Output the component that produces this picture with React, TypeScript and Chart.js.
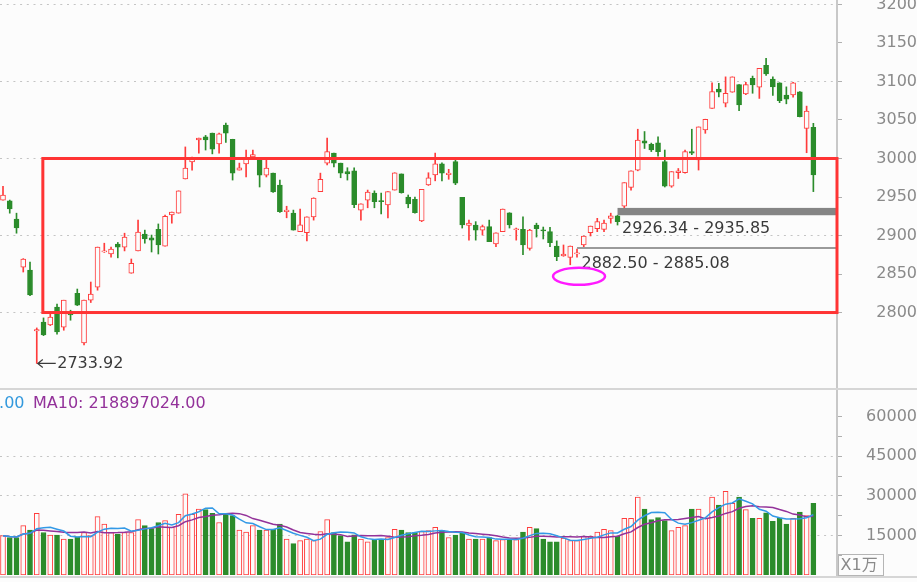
import React, { useEffect, useRef } from 'react';
import { Chart, registerables } from 'chart.js';

Chart.register(...registerables);
Chart.defaults.font.family = "'DejaVu Sans', 'Noto Sans CJK SC', sans-serif";

// ---------- data (price in points, volume in 万) ----------
const opens = [
  2946, 2945, 2921.4, 2859, 2855, 2776, 2787.7, 2783.8, 2807, 2781,
  2799, 2825, 2760.4, 2816, 2833, 2878.6, 2876, 2889, 2885, 2851,
  2880, 2902, 2897, 2908, 2886, 2926.6, 2929, 2973.4, 2995.5, 3024,
  3028, 3033, 3019, 3043.5, 3025, 2985, 2993, 3002, 2999, 2978.5,
  2981, 2965.6, 2931, 2929, 2905, 2903.6, 2924, 2957, 2994, 3007,
  2994, 2983, 2984, 2933, 2946, 2955, 2945, 2939.6, 2959, 2980,
  2950, 2947, 2919, 2965.6, 2978.6, 2993, 2979, 2996, 2949.6, 2913,
  2913.6, 2907, 2911.5, 2889, 2905, 2929.6, 2907.5, 2908, 2883.4, 2913.6,
  2907, 2905, 2886.4, 2873.4, 2871.7, 2876, 2887.7, 2903.6, 2909, 2908,
  2922.3, 2925.7, 2938, 2962.6, 2985, 3023, 3018.4, 3020.5, 2996, 2964,
  2981.5, 2981.5, 3009, 2998, 3037, 3065, 3090, 3071.7, 3086, 3096,
  3083.7, 3104, 3092.5, 3121, 3103, 3098.4, 3082.5, 3082.5, 3086.7, 3039,
  3040.5,
];
const highs = [
  2964, 2946, 2929, 2870, 2865.6, 2780, 2793, 2799.4, 2811, 2816,
  2803, 2830.5, 2816, 2839.6, 2885, 2890, 2885, 2891, 2903, 2869.5,
  2920, 2907, 2900.6, 2915, 2926.6, 2930.5, 2958, 3015, 3002, 3026.6,
  3030, 3033, 3033, 3046, 3025, 2994, 3011, 3011, 3000, 2998,
  2981, 2972, 2938, 2933, 2934.4, 2924.4, 2949, 2981, 3026.6, 3007,
  2994, 2988, 2988, 2941, 2959, 2958, 2955, 2957, 2981.5, 2980,
  2952.6, 2950, 2960, 2981.5, 3007, 2994.5, 2986, 2999, 2949.6, 2920,
  2918, 2913.6, 2920, 2903.6, 2934.4, 2929.6, 2909.7, 2924.4, 2908, 2916,
  2911, 2910.6, 2893, 2887.7, 2886.4, 2882.5, 2899.4, 2912.3, 2922.3, 2920,
  2929, 2926.34, 2968.6, 2984, 3038, 3035, 3020, 3028, 3011, 2983,
  2987, 3011, 3038, 3041, 3051, 3098.4, 3097.6, 3106, 3106, 3096,
  3099, 3107, 3117, 3130, 3106, 3098.4, 3093, 3099, 3087, 3068,
  3045.7,
];
const lows = [
  2946, 2929, 2903, 2852.6, 2822, 2733.92, 2770, 2783, 2772, 2777,
  2790, 2809, 2758, 2813, 2829, 2878, 2872, 2871, 2880, 2851,
  2880, 2890, 2878.6, 2876, 2886, 2916, 2929, 2973.4, 2985, 3007,
  3011, 3006, 3007, 3021, 2972, 2985, 2976, 3001, 2963, 2976,
  2956, 2930, 2923, 2907, 2905, 2893, 2920, 2957, 2991.6, 2989,
  2975, 2972, 2936, 2920, 2936, 2936, 2928, 2923, 2959, 2955,
  2936, 2929, 2918, 2965, 2971, 2971, 2973, 2966, 2909.7, 2894,
  2894, 2900.6, 2892, 2885.5, 2905, 2909.7, 2894, 2875, 2881, 2898,
  2895.5, 2885.5, 2867.3, 2873, 2862, 2872, 2885.08, 2899.4, 2905, 2905,
  2916, 2913.6, 2935.85, 2959, 2984, 3013, 3009, 3003, 2963, 2962.6,
  2974, 2981, 3005, 2985, 3032.7, 3065, 3080, 3067, 3086, 3062,
  3083, 3084.7, 3078, 3108, 3082, 3072.5, 3071, 3079.5, 3054, 3007.5,
  2957,
];
const closes = [
  2952.6, 2934.4, 2909.7, 2869.5, 2822.7, 2778, 2770.8, 2794, 2774.7, 2816,
  2796.8, 2809.7, 2816, 2824, 2885, 2880, 2882.5, 2885, 2898, 2864,
  2904.5, 2895.5, 2894, 2887.7, 2925, 2930.5, 2958, 2987.7, 2999.4, 3026.6,
  3024, 3012, 3032, 3033, 2981, 2988, 3000.6, 3005, 2978.5, 2987.7,
  2956.5, 2931, 2933, 2907, 2914, 2924.4, 2948.7, 2973, 3009, 2994,
  2981, 2980, 2940, 2941, 2956.5, 2944, 2944, 2957, 2981.5, 2955.6,
  2941, 2929.6, 2960, 2975, 2993, 2981, 2981, 2968, 2913.6, 2916,
  2907, 2911.5, 2892, 2903.6, 2934.4, 2913.6, 2908.5, 2887.7, 2907, 2909,
  2906, 2890.7, 2872.5, 2876, 2886.4, 2877.6, 2899.4, 2912.3, 2918, 2916,
  2925.7, 2918, 2968.6, 2984, 3024, 3020, 3011, 3009, 2964, 2983,
  2984, 3009, 3007, 3041, 3051, 3087, 3086, 3084.7, 3106, 3069.5,
  3096, 3095.5, 3117, 3109.7, 3093, 3075, 3077, 3098.4, 3054.3, 3061.7,
  2978.6,
];
const volumes = [
  14900, 14200, 14200, 18700, 17000, 23400, 16100, 15100, 15100, 13600,
  13600, 14500, 16100, 14900, 22100, 19300, 16100, 15500, 16100, 16100,
  21000, 18700, 17600, 19900, 20600, 18100, 23000, 30800, 23000, 25000,
  24800, 23400, 19900, 23100, 22500, 17000, 16300, 18700, 17000, 17000,
  17300, 19300, 13600, 11900, 13000, 13600, 13000, 16500, 21000, 16100,
  14900, 12600, 15200, 13600, 12600, 13400, 13400, 14200, 17300, 17000,
  16100, 16100, 16500, 16800, 18100, 16800, 14200, 15100, 16100, 13600,
  13600, 13600, 14200, 13000, 13400, 13400, 13400, 16300, 18100, 17600,
  13600, 12600, 12600, 14000, 13000, 13000, 14700, 14700, 16300, 17300,
  16800, 14700, 21500, 21500, 29500, 25000, 21000, 21800, 20600, 16800,
  18100, 18700, 25000, 25000, 21500, 29500, 26500, 31700, 27200, 29500,
  24800, 21500, 21500, 23600, 20300, 21500, 19300, 21500, 23800, 22500,
  27200,
];

const priceTicks = [2800, 2850, 2900, 2950, 3000, 3050, 3100, 3150, 3200];
const priceGridLines = [2800, 2900, 3000, 3100, 3200];
const volumeTicks = [7500, 15000, 22500, 30000, 37500, 45000, 52500, 60000];
const volumeLabelTicks = [15000, 30000, 45000, 60000];
const volumeGridLines = [15000, 30000, 45000];

// annotations drawn on the price panel
const upperGap = [2926.34, 2935.85];
const upperGapStart = 91;
const upperGapText = '2926.34 - 2935.85';
const lowerGap = [2882.5, 2885.08];
const lowerGapStart = 85;
const lowerGapText = '2882.50 - 2885.08';
const boxRange = [2800, 3000];
const boxStart = 5.9;
const lowIndex = 5;
const lowText = '2733.92';
const circleAt = { index: 85.3, price: 2847 };
const ma5Text = '.00';
const ma10Text = 'MA10: 218897024.00';
const unitText = 'X1万';

// ---------- styles ----------
const BG = '#fcfcfc';
const RED = '#ff3b3b';
const GREEN = '#2b8c2b';
const GRID = '#c4c4c4';
const AXIS = '#c8c8c8';
const LABEL = '#8a8a8a';
const FONT = "16px 'DejaVu Sans', 'Noto Sans CJK SC', sans-serif";
const X_MIN = -0.444;
const X_MAX = 123.5;

const movingAverage = (vals: number[], n: number) =>
  vals.map((_, i) => {
    const s = vals.slice(Math.max(0, i - n + 1), i + 1);
    return s.reduce((a, b) => a + b, 0) / s.length;
  });

const idx = opens.map((_, i) => i);
const isUp = (i: number) => closes[i] >= opens[i];

const annotationPlugin = {
  id: 'priceAnnotations',
  afterDatasetsDraw(chart: any) {
    const { ctx, chartArea, scales } = chart;
    const x = scales.x;
    const y = scales.y;
    ctx.save();
    ctx.font = FONT;
    ctx.textBaseline = 'middle';
    ctx.textAlign = 'left';

    // upper gap band
    const ux = x.getPixelForValue(upperGapStart);
    const uy0 = y.getPixelForValue(upperGap[1]);
    const uy1 = y.getPixelForValue(upperGap[0]);
    ctx.fillStyle = '#858585';
    ctx.fillRect(ux, uy0, chartArea.right - ux, uy1 - uy0);
    ctx.fillStyle = '#3a3a3a';
    ctx.fillText(upperGapText, ux + 4.5, uy1 + 14);

    // lower gap band
    const lx = x.getPixelForValue(lowerGapStart);
    const ly0 = y.getPixelForValue(lowerGap[1]);
    const ly1 = y.getPixelForValue(lowerGap[0]);
    ctx.fillStyle = '#9a9a9a';
    ctx.fillRect(lx, ly0, chartArea.right - lx, Math.max(1.5, ly1 - ly0));
    ctx.fillStyle = '#3a3a3a';
    ctx.fillText(lowerGapText, lx + 4.5, ly1 + 15);

    // red box
    const bx = x.getPixelForValue(boxStart);
    const by0 = y.getPixelForValue(boxRange[1]);
    const by1 = y.getPixelForValue(boxRange[0]);
    ctx.strokeStyle = '#ff3434';
    ctx.lineWidth = 3;
    ctx.strokeRect(bx, by0, chartArea.right - bx, by1 - by0);

    // magenta ellipse
    ctx.strokeStyle = '#ff1aff';
    ctx.lineWidth = 2.5;
    ctx.beginPath();
    ctx.ellipse(x.getPixelForValue(circleAt.index), y.getPixelForValue(circleAt.price), 26, 8.5, 0, 0, Math.PI * 2);
    ctx.stroke();

    // low marker
    const mx = x.getPixelForValue(lowIndex);
    const my = y.getPixelForValue(lows[lowIndex]);
    ctx.strokeStyle = '#3a3a3a';
    ctx.lineWidth = 1.2;
    ctx.beginPath();
    ctx.moveTo(mx + 1, my);
    ctx.lineTo(mx + 19, my);
    ctx.moveTo(mx + 6, my - 4);
    ctx.lineTo(mx + 1, my);
    ctx.lineTo(mx + 6, my + 4);
    ctx.stroke();
    ctx.fillStyle = '#3a3a3a';
    ctx.fillText(lowText, mx + 20.5, my + 0.5);
    ctx.restore();
  },
};

const volumePlugin = {
  id: 'volumeTexts',
  afterDraw(chart: any) {
    const { ctx, chartArea } = chart;
    ctx.save();
    ctx.font = FONT;
    ctx.textBaseline = 'middle';
    ctx.textAlign = 'right';
    ctx.fillStyle = '#3399dd';
    ctx.fillText(ma5Text, 24.5, 13.5);
    ctx.textAlign = 'left';
    ctx.fillStyle = '#93329a';
    ctx.fillText(ma10Text, 33, 13.5);
    // unit box
    const bx = chartArea.right + 1.5;
    ctx.strokeStyle = '#b5b5b5';
    ctx.lineWidth = 1;
    ctx.strokeRect(bx, 164.5, 45, 21);
    ctx.fillStyle = '#8a8a8a';
    ctx.fillText(unitText, bx + 2, 176);
    ctx.restore();
  },
};

export default function App() {
  const priceRef = useRef<HTMLCanvasElement | null>(null);
  const volRef = useRef<HTMLCanvasElement | null>(null);

  useEffect(() => {
    const priceChart = new Chart(priceRef.current as HTMLCanvasElement, {
      type: 'bar',
      data: {
        datasets: [
          {
            type: 'bar',
            label: 'body',
            data: idx.map((i) => ({ x: i, y: [opens[i], closes[i]] })) as any,
            backgroundColor: idx.map((i) => (isUp(i) ? BG : GREEN)),
            borderColor: idx.map((i) => (isUp(i) ? RED : GREEN)),
            borderWidth: 1,
            borderSkipped: false,
            grouped: false,
            barPercentage: 1,
            categoryPercentage: 1,
            maxBarThickness: 5,
            minBarLength: 1,
            order: 0,
          } as any,
          {
            type: 'bar',
            label: 'wick',
            data: idx.map((i) => ({ x: i, y: [lows[i], highs[i]] })) as any,
            backgroundColor: idx.map((i) => (isUp(i) ? RED : GREEN)),
            borderWidth: 0,
            grouped: false,
            barPercentage: 1,
            categoryPercentage: 1,
            maxBarThickness: 1,
            order: 1,
          } as any,
        ],
      },
      options: {
        responsive: false,
        animation: false,
        layout: { padding: 0, autoPadding: false } as any,
        plugins: { legend: { display: false }, tooltip: { enabled: false } },
        scales: {
          x: { type: 'linear', min: X_MIN, max: X_MAX, offset: false, display: false },
          y: {
            position: 'right',
            min: 2702,
            max: 3205.8,
            afterBuildTicks: (s: any) => {
              s.ticks = priceTicks.map((v) => ({ value: v }));
            },
            afterFit: (s: any) => {
              s.width = 80;
              s.paddingTop = 0;
              s.paddingBottom = 0;
            },
            grid: {
              color: (c: any) => (c.tick && priceGridLines.includes(c.tick.value) ? GRID : 'rgba(0,0,0,0)'),
              lineWidth: 1,
              tickColor: '#b0b0b0',
              tickLength: 5,
              drawTicks: true,
            },
            border: { display: true, color: AXIS, width: 2, dash: [2, 4.7] },
            ticks: {
              color: LABEL,
              font: { size: 16 },
              padding: 26,
              crossAlign: 'far',
              autoSkip: false,
              callback: (v: any) => String(v),
            },
          } as any,
        },
      },
      plugins: [annotationPlugin],
    });

    const ma5 = movingAverage(volumes, 5);
    const ma10 = movingAverage(volumes, 10);

    const volChart = new Chart(volRef.current as HTMLCanvasElement, {
      type: 'bar',
      data: {
        datasets: [
          {
            type: 'line',
            label: 'MA5',
            data: idx.map((i) => ({ x: i, y: ma5[i] })) as any,
            borderColor: '#3399e6',
            borderWidth: 1.5,
            pointRadius: 0,
            tension: 0,
            order: 0,
          } as any,
          {
            type: 'line',
            label: 'MA10',
            data: idx.map((i) => ({ x: i, y: ma10[i] })) as any,
            borderColor: '#93329a',
            borderWidth: 1.5,
            pointRadius: 0,
            tension: 0,
            order: 1,
          } as any,
          {
            type: 'bar',
            label: 'volume',
            data: idx.map((i) => ({ x: i, y: volumes[i] })) as any,
            backgroundColor: idx.map((i) => (isUp(i) ? BG : GREEN)),
            borderColor: idx.map((i) => (isUp(i) ? RED : GREEN)),
            borderWidth: 1,
            borderSkipped: false,
            grouped: false,
            barPercentage: 1,
            categoryPercentage: 1,
            maxBarThickness: 5,
            order: 2,
          } as any,
        ],
      },
      options: {
        responsive: false,
        animation: false,
        layout: { padding: { top: 0, left: 0, right: 0, bottom: 7 }, autoPadding: false } as any,
        plugins: { legend: { display: false }, tooltip: { enabled: false } },
        scales: {
          x: { type: 'linear', min: X_MIN, max: X_MAX, offset: false, display: false },
          y: {
            position: 'right',
            min: 0,
            max: 70100,
            afterBuildTicks: (s: any) => {
              s.ticks = volumeTicks.map((v) => ({ value: v }));
            },
            afterFit: (s: any) => {
              s.width = 80;
              s.paddingTop = 0;
              s.paddingBottom = 0;
            },
            grid: {
              color: (c: any) => (c.tick && volumeGridLines.includes(c.tick.value) ? GRID : 'rgba(0,0,0,0)'),
              lineWidth: 1,
              tickColor: '#b0b0b0',
              tickLength: 5,
              drawTicks: true,
            },
            border: { display: true, color: AXIS, width: 2, dash: [2, 4.7] },
            ticks: {
              color: LABEL,
              font: { size: 16 },
              padding: 16,
              crossAlign: 'far',
              autoSkip: false,
              callback: (v: any) => (volumeLabelTicks.includes(Number(v)) ? String(v) : ''),
            },
          } as any,
        },
      },
      plugins: [volumePlugin],
    });

    return () => {
      priceChart.destroy();
      volChart.destroy();
    };
  }, []);

  return (
    <div style={{ position: 'fixed', left: 0, top: 0, width: 917, height: 582, background: BG, overflow: 'hidden' }}>
      <canvas ref={priceRef} width={917} height={388} style={{ position: 'absolute', left: 0, top: 0 }} />
      <div style={{ position: 'absolute', left: 0, top: 388, width: 917, height: 2, background: '#d6d6d6' }} />
      <canvas ref={volRef} width={917} height={192} style={{ position: 'absolute', left: 0, top: 390 }} />
      <div style={{ position: 'absolute', left: 0, top: 576, width: 917, height: 2, background: '#d6d6d6' }} />
    </div>
  );
}
